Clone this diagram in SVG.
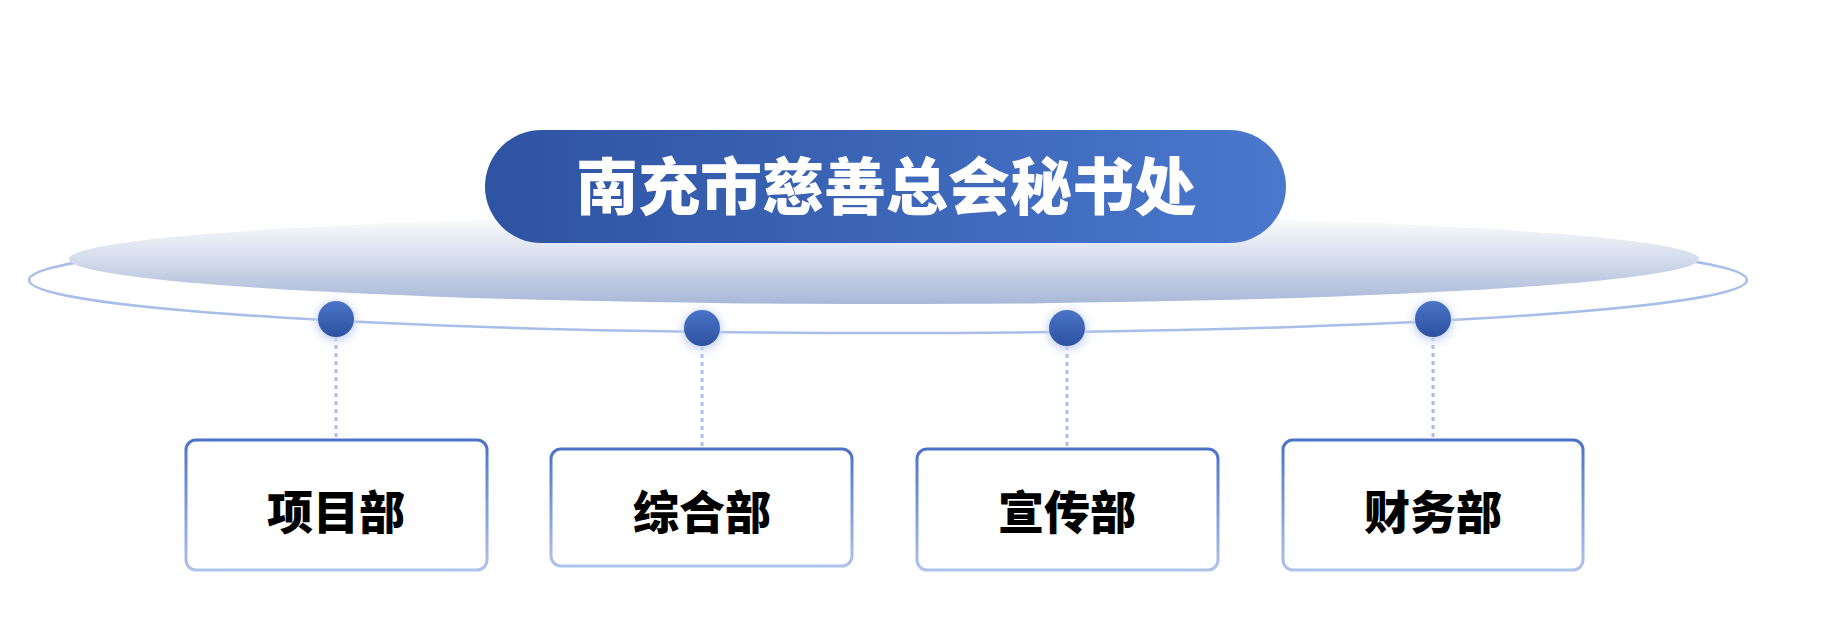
<svg xmlns="http://www.w3.org/2000/svg" width="1837" height="620" viewBox="0 0 1837 620">
<defs>
<linearGradient id="pill" x1="0" y1="0" x2="1" y2="0"><stop offset="0" stop-color="#2e53a2"/><stop offset="1" stop-color="#4a78cd"/></linearGradient>
<linearGradient id="disc" x1="0" y1="0" x2="0" y2="1"><stop offset="0" stop-color="#ffffff"/><stop offset="1" stop-color="#a9b8d8"/></linearGradient>
<linearGradient id="bx" x1="0" y1="0" x2="0" y2="1"><stop offset="0" stop-color="#4a72c6"/><stop offset="1" stop-color="#b0c4ea"/></linearGradient>
<linearGradient id="dot" x1="0" y1="0" x2="0" y2="1"><stop offset="0" stop-color="#4a74c8"/><stop offset="1" stop-color="#2d51a0"/></linearGradient>
<filter id="glow" x="-1" y="-1" width="3" height="3"><feGaussianBlur stdDeviation="4"/></filter>
</defs>
<style>
.box{fill:#fff;stroke:url(#bx);stroke-width:3}
.lbl{font-family:"Noto Sans CJK SC",sans-serif;font-weight:900;font-size:46px;fill:#000;text-anchor:middle}
.conn{stroke:#aac0ea;stroke-width:3;stroke-dasharray:4 4;fill:none}
</style>
<rect width="1837" height="620" fill="#fff"/>
<ellipse cx="888" cy="280" rx="859" ry="53" fill="none" stroke="#a8bde8" stroke-width="2.5"/>
<ellipse cx="884" cy="259" rx="815" ry="45" fill="url(#disc)"/>
<g id="root">
<rect x="485" y="130" width="801" height="113" rx="56.5" fill="url(#pill)"/>
<text x="886" y="210" font-family="'Noto Sans CJK SC',sans-serif" font-weight="900" font-size="62" fill="#fff" text-anchor="middle">南充市慈善总会秘书处</text>
</g>
<g id="connectors">
<path class="conn" d="M336 337V439M702 346V449M1067 346V449M1433 337V439"/>
<g fill="#c8d4f4" filter="url(#glow)"><circle cx="336" cy="321" r="20"/><circle cx="702" cy="330" r="20"/><circle cx="1067" cy="330" r="20"/><circle cx="1433" cy="321" r="20"/></g>
<g fill="url(#dot)"><circle cx="336" cy="319" r="18"/><circle cx="702" cy="328" r="18"/><circle cx="1067" cy="328" r="18"/><circle cx="1433" cy="319" r="18"/></g>
</g>
<g id="n1"><rect class="box" x="186" y="440" width="301" height="130" rx="10"/><text class="lbl" x="336" y="529">项目部</text></g>
<g id="n2"><rect class="box" x="551" y="449" width="301" height="117" rx="10"/><text class="lbl" x="702" y="529">综合部</text></g>
<g id="n3"><rect class="box" x="917" y="449" width="301" height="121" rx="10"/><text class="lbl" x="1067" y="529">宣传部</text></g>
<g id="n4"><rect class="box" x="1283" y="440" width="300" height="130" rx="10"/><text class="lbl" x="1433" y="529">财务部</text></g>
</svg>
